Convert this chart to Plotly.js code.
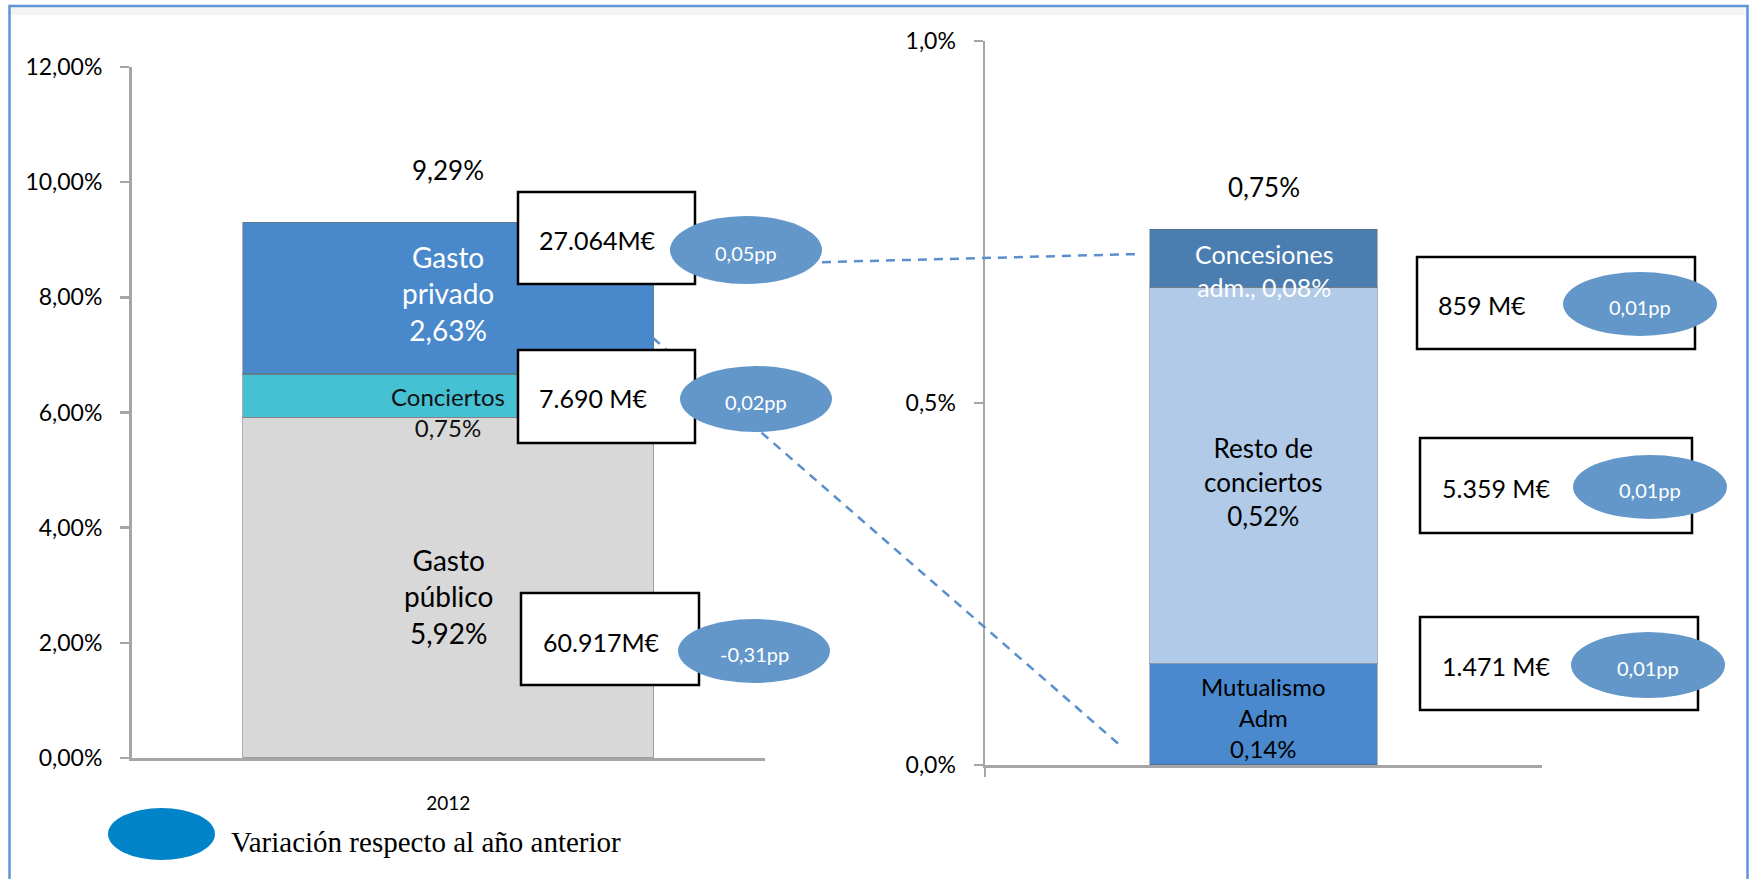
<!DOCTYPE html>
<html>
<head>
<meta charset="utf-8">
<script src="https://cdn.plot.ly/plotly-3.0.1.min.js"></script>
<style>
  html, body { margin: 0; padding: 0; background: #fff; }
  #chart { width: 1752px; height: 879px; }
</style>
</head>
<body>
<div id="chart"></div>
<script>
// ---------------- DATA ----------------
const leftCategory = ['2012'];
const leftSeries = ['Gasto público', 'Conciertos', 'Gasto privado'];
const leftValues = [5.92, 0.75, 2.63];
const leftLabels = ['Gasto<br>público<br>5,92%', 'Conciertos<br>0,75%', 'Gasto<br>privado<br>2,63%'];
const leftTotal = '9,29%';
const leftAmounts = ['60.917M€', '7.690 M€', '27.064M€'];
const leftVariation = ['-0,31pp', '0,02pp', '0,05pp'];

const rightCategory = ['Conciertos'];
const rightSeries = ['Mutualismo Adm', 'Resto de conciertos', 'Concesiones adm.'];
const rightValues = [0.14, 0.52, 0.08];
const rightLabels = ['Mutualismo<br>Adm<br>0,14%', 'Resto de<br>conciertos<br>0,52%', 'Concesiones<br>adm., 0,08%'];
const rightTotal = '0,75%';
const rightAmounts = ['1.471 M€', '5.359 M€', '859 M€'];
const rightVariation = ['0,01pp', '0,01pp', '0,01pp'];

const legendText = 'Variación respecto al año anterior';

// ---------------- STYLE / LAYOUT ----------------
const W = 1752, H = 879;
const px = x => x / W;
const py = y => 1 - y / H;
const FONT = 'Lato, "Open Sans", sans-serif';

const leftColors = ['#D8D8D8', '#46C1D4', '#4A88CC'];
const leftTextColors = ['#000000', '#111111', '#FFFFFF'];
const leftTextSizes = [28, 24, 28];
const leftShift = [-9, -16, 5];

const rightColors = ['#4A89CE', '#B0CAE8', '#4A7DB0'];
const rightTextColors = ['#000000', '#000000', '#FFFFFF'];
const rightTextSizes = [24, 26, 25];
const rightShift = [-3, -7, -12];

// callout geometry (pixels): box [x0,y0,x1,y1], text left x, ellipse [cx,cy,rx,ry]
const leftBoxes = [
  {box: [521, 593, 699, 685], tx: 541, ty: 642, ell: [754, 651, 76, 32]},
  {box: [518, 350, 695, 443], tx: 537, ty: 398, ell: [756, 399, 76, 33]},
  {box: [518, 192, 695, 284], tx: 537, ty: 240, ell: [746, 250, 76, 34]}
];
const rightBoxes = [
  {box: [1420, 617, 1698, 710], tx: 1440, ty: 666, ell: [1648, 665, 77, 33]},
  {box: [1420, 438, 1692, 533], tx: 1440, ty: 488, ell: [1650, 487, 77, 32]},
  {box: [1417, 257, 1695, 349], tx: 1436, ty: 305, ell: [1640, 304, 77, 32]}
];

const traces = [];
leftSeries.forEach((name, i) => {
  traces.push({
    type: 'bar', name: name, x: leftCategory, y: [leftValues[i]],
    xaxis: 'x', yaxis: 'y', width: 0.649,
    marker: {color: leftColors[i], line: {color: 'rgba(110,110,110,0.55)', width: 1.2}},
    hoverinfo: 'skip', showlegend: false
  });
});
rightSeries.forEach((name, i) => {
  traces.push({
    type: 'bar', name: name, x: rightCategory, y: [rightValues[i]],
    xaxis: 'x2', yaxis: 'y2', width: 0.409,
    marker: {color: rightColors[i], line: {color: 'rgba(90,90,90,0.45)', width: 1.2}},
    hoverinfo: 'skip', showlegend: false
  });
});

const annotations = [];
// segment labels (positioned from data; x given as category index)
const lx = leftCategory.indexOf('2012');
const rx = rightCategory.indexOf('Conciertos');
let cum = 0;
leftValues.forEach((v, i) => {
  annotations.push({
    xref: 'x', yref: 'y', x: lx, y: cum + v / 2, yshift: leftShift[i],
    text: leftLabels[i], showarrow: false, align: 'center',
    font: {family: FONT, size: leftTextSizes[i], color: leftTextColors[i]}
  });
  cum += v;
});
annotations.push({
  xref: 'x', yref: 'y', x: lx, y: cum, yshift: 52,
  text: leftTotal, showarrow: false, font: {family: FONT, size: 26, color: '#000'}
});
cum = 0;
rightValues.forEach((v, i) => {
  annotations.push({
    xref: 'x2', yref: 'y2', x: rx, y: cum + v / 2, yshift: rightShift[i],
    text: rightLabels[i], showarrow: false, align: 'center',
    font: {family: FONT, size: rightTextSizes[i], color: rightTextColors[i]}
  });
  cum += v;
});
annotations.push({
  xref: 'x2', yref: 'y2', x: rx, y: cum, yshift: 42,
  text: rightTotal, showarrow: false, font: {family: FONT, size: 26, color: '#000'}
});

const shapes = [];
// outer frame
shapes.push({type: 'rect', xref: 'paper', yref: 'paper', x0: px(9.5), x1: px(1747.5), y0: py(7), y1: py(15),
  fillcolor: 'rgba(0,0,0,0.045)', line: {width: 0}, layer: 'below'});
shapes.push({type: 'rect', xref: 'paper', yref: 'paper', x0: px(9.5), x1: px(1747.5), y0: py(6), y1: py(900),
  fillcolor: 'rgba(0,0,0,0)', line: {color: '#5E95D6', width: 2.5}});
// dashed connector lines
shapes.push({type: 'line', xref: 'paper', yref: 'paper', x0: px(790), y0: py(263), x1: px(1140), y1: py(254),
  line: {color: '#5A8FCD', width: 2.5, dash: '9px,7px'}});
shapes.push({type: 'line', xref: 'paper', yref: 'paper', x0: px(653), y0: py(338), x1: px(1122), y1: py(747),
  line: {color: '#5A8FCD', width: 2.5, dash: '9px,7px'}});

function addCallouts(boxes, amounts, variations) {
  boxes.forEach((b, i) => {
    shapes.push({type: 'rect', xref: 'paper', yref: 'paper',
      x0: px(b.box[0]), x1: px(b.box[2]), y0: py(b.box[3]), y1: py(b.box[1]),
      fillcolor: '#FFFFFF', line: {color: '#000000', width: 2.5}});
    shapes.push({type: 'circle', xref: 'paper', yref: 'paper',
      x0: px(b.ell[0] - b.ell[2]), x1: px(b.ell[0] + b.ell[2]),
      y0: py(b.ell[1] + b.ell[3]), y1: py(b.ell[1] - b.ell[3]),
      fillcolor: '#6397CA', line: {width: 0}});
    annotations.push({xref: 'paper', yref: 'paper', x: px(b.tx), y: py(b.ty), xanchor: 'left', yanchor: 'middle',
      text: amounts[i], showarrow: false, font: {family: FONT, size: 25, color: '#000'}});
    annotations.push({xref: 'paper', yref: 'paper', x: px(b.ell[0]), y: py(b.ell[1] + 3), xanchor: 'center', yanchor: 'middle',
      text: variations[i], showarrow: false, font: {family: FONT, size: 20, color: '#FFFFFF'}});
  });
}
addCallouts(leftBoxes, leftAmounts, leftVariation);
addCallouts(rightBoxes, rightAmounts, rightVariation);

// legend marker + text
shapes.push({type: 'circle', xref: 'paper', yref: 'paper', x0: px(108), x1: px(215), y0: py(860), y1: py(808),
  fillcolor: '#0083C9', line: {width: 0}});
annotations.push({xref: 'paper', yref: 'paper', x: px(229), y: py(842), xanchor: 'left', yanchor: 'middle',
  text: legendText, showarrow: false, font: {family: '"Liberation Serif", "Times New Roman", serif', size: 29, color: '#000'}});

const axisLine = '#A6A6A6';
const layout = {
  width: W, height: H,
  margin: {l: 0, r: 0, t: 0, b: 0},
  paper_bgcolor: '#FFFFFF', plot_bgcolor: 'rgba(0,0,0,0)',
  barmode: 'stack', bargap: 0,
  separators: ',.',
  showlegend: false,
  font: {family: FONT, color: '#000'},
  xaxis: {domain: [px(131.5), px(765)], anchor: 'y', type: 'category', range: [-0.5, 0.5],
    showline: true, linecolor: axisLine, linewidth: 3, ticks: '', showgrid: false, zeroline: false,
    tickfont: {family: FONT, size: 19, color: '#000'}, ticklabelstandoff: 26, fixedrange: true},
  yaxis: {domain: [py(758), py(67)], anchor: 'x', range: [0, 12], dtick: 2, tick0: 0,
    tickformat: '.2f', ticksuffix: '%', showline: true, linecolor: axisLine, linewidth: 2.5,
    ticks: 'outside', ticklen: 9, tickwidth: 2.5, tickcolor: axisLine, showgrid: false, zeroline: false,
    tickfont: {family: FONT, size: 23, color: '#000'}, ticklabelstandoff: 13, fixedrange: true},
  xaxis2: {domain: [px(985), px(1542)], anchor: 'y2', type: 'category', range: [-0.5, 0.5],
    showline: true, linecolor: axisLine, linewidth: 3, ticks: 'outside', tickson: 'boundaries',
    ticklen: 9, tickwidth: 2.5, tickcolor: axisLine, showticklabels: false, showgrid: false, zeroline: false, fixedrange: true},
  yaxis2: {domain: [py(765), py(41)], anchor: 'x2', range: [0, 1], dtick: 0.5, tick0: 0,
    tickformat: '.1f', ticksuffix: '%', showline: true, linecolor: axisLine, linewidth: 2.5,
    ticks: 'outside', ticklen: 9, tickwidth: 2.5, tickcolor: axisLine, showgrid: false, zeroline: false,
    tickfont: {family: FONT, size: 23, color: '#000'}, ticklabelstandoff: 13, fixedrange: true},
  shapes: shapes,
  annotations: annotations
};

Plotly.newPlot('chart', traces, layout, {displayModeBar: false, staticPlot: true});
</script>
</body>
</html>
